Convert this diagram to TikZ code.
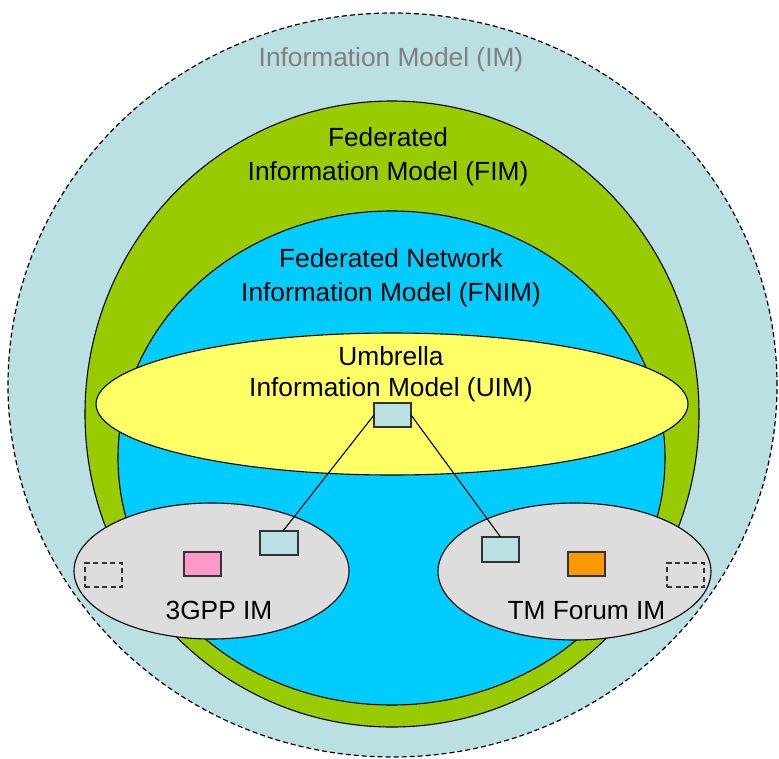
\documentclass[tikz,border=0pt]{standalone}
\usepackage{fontspec}
\setmainfont{Liberation Sans}
\usetikzlibrary{shapes.geometric}
\definecolor{imfill}{HTML}{BAE0E4}
\definecolor{fimfill}{HTML}{99CC00}
\definecolor{fnimfill}{HTML}{00CCFF}
\definecolor{uimfill}{HTML}{FFFF66}
\definecolor{sdofill}{HTML}{DDDDDD}
\definecolor{pinkfill}{HTML}{FF99CC}
\definecolor{orangefill}{HTML}{FF9900}
\definecolor{labelgray}{HTML}{808080}
\tikzset{
  region/.style={ellipse, draw=black, line width=1.1pt, inner sep=0pt, outer sep=0pt},
  classbox/.style={rectangle, draw=black!80, line width=1.4pt, inner sep=0pt, outer sep=0pt,
    minimum width=37pt, minimum height=24pt},
  ghostbox/.style={classbox, dash pattern=on 5pt off 3.5pt, fill=none},
  link/.style={draw=black, line width=1.1pt},
  lbl/.style={anchor=base, align=center, inner sep=0pt, text=black},
}
\begin{document}
\begin{tikzpicture}[x=1pt,y=-1pt]
\useasboundingbox (0,0) rectangle (779,758);
% regions
\node[region, fill=imfill, line width=1.2pt, dash pattern=on 5pt off 3pt, minimum width=769pt, minimum height=744pt] (im) at (392.5,385) {};
\node[region, fill=fimfill, minimum width=614pt, minimum height=626pt] (fim) at (392,414) {};
\node[region, fill=fnimfill, minimum width=547pt, minimum height=494pt] (fnim) at (391.5,458) {};
\node[region, fill=uimfill, minimum width=592pt, minimum height=142pt] (uim) at (392,404) {};
\node[region, fill=sdofill, minimum width=275pt, minimum height=136pt] (gpp) at (211.5,571) {};
\node[region, fill=sdofill, minimum width=273pt, minimum height=137pt] (tmf) at (574.5,571.5) {};
% class boxes
\node[classbox, fill=imfill] (ub) at (392.5,415) {};
\node[ghostbox] (gdash) at (103.5,575) {};
\node[classbox, fill=pinkfill] (gpink) at (202.5,564) {};
\node[classbox, fill=imfill, minimum width=38pt] (gcyan) at (279,543) {};
\node[classbox, fill=imfill, minimum height=25pt] (tcyan) at (500.5,549.5) {};
\node[classbox, fill=orangefill] (torange) at (586.5,564) {};
\node[ghostbox] (tdash) at (685.5,575) {};
% links
\draw[link] (ub.west) -- ([xshift=4pt]gcyan.north);
\draw[link] (ub.east) -- (tcyan.north);
% labels
\node[lbl, text=labelgray, font=\fontsize{26.3}{31}\selectfont] (imlbl) at (391,66.4) {Information Model (IM)};
\node[lbl, font=\fontsize{26.3}{34}\selectfont] (fimlbl) at (388,180.4) {Federated\\Information Model (FIM)};
\node[lbl, font=\fontsize{26.3}{34}\selectfont] (fnimlbl) at (391,301.4) {Federated Network\\Information Model (FNIM)};
\node[lbl, font=\fontsize{26.3}{31}\selectfont] (uimlbl) at (391,396.4) {Umbrella\\Information Model (UIM)};
\node[lbl, font=\fontsize{26.3}{31}\selectfont] (gpplbl) at (219,619.4) {3GPP IM};
\node[lbl, font=\fontsize{26.3}{31}\selectfont] (tmflbl) at (586.5,619.4) {TM Forum IM};
\end{tikzpicture}
\end{document}
